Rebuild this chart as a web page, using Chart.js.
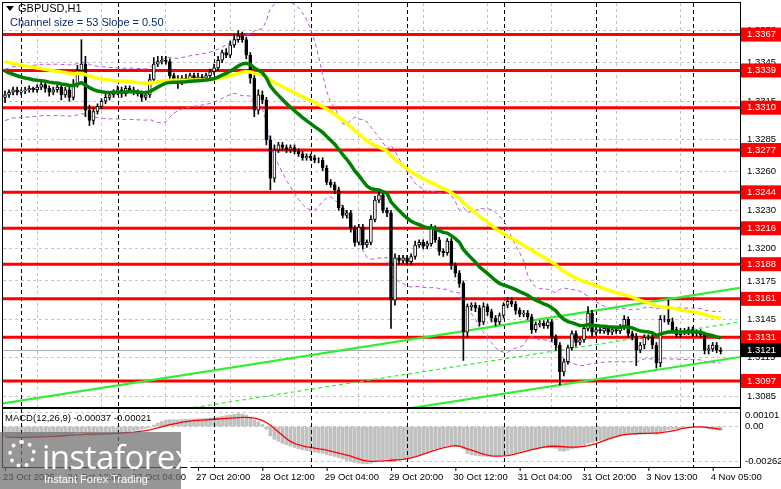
<!DOCTYPE html>
<html><head><meta charset="utf-8">
<script src="https://cdn.jsdelivr.net/npm/chart.js@4.4.0/dist/chart.umd.min.js"></script>
<style>
html,body{margin:0;padding:0;background:#fff;width:781px;height:489px;overflow:hidden;font-family:"Liberation Sans",Arial,sans-serif}
#c1{position:absolute;left:0;top:0}
#c2{position:absolute;left:0;top:407px}
#wm{position:absolute;left:0;top:432px;width:181px;height:57px;background:rgba(110,110,110,0.72);color:#fff}
#wm .big{position:absolute;left:42px;top:2px;font-size:33px;font-family:"Open Sans",sans-serif;letter-spacing:-0.5px}
#wm .small{position:absolute;left:44px;top:41px;font-size:11px}
#wm .logo{position:absolute;left:8px;top:8px;width:28px;height:28px;border-radius:50%;border:4px dotted #fff;box-sizing:border-box}
</style></head><body>
<canvas id="c1" width="781" height="408"></canvas>
<canvas id="c2" width="781" height="82"></canvas>
<div id="wm"><div class="logo"></div><div class="big">instaforex</div><div class="small">Instant Forex Trading</div></div>
<script>
const closes=[1.3320,1.3322,1.3324,1.3322,1.3323,1.3324,1.3325,1.3324,1.3326,1.3328,1.3325,1.3322,1.3324,1.3326,1.3320,1.3324,1.3318,1.3328,1.3339,1.3344,
1.3308,1.3300,1.3307,1.3311,1.3315,1.3318,1.3320,1.3322,1.3324,1.3321,1.3325,1.3324,1.3322,1.3321,1.3318,1.3320,1.3332,1.3344,1.3346,1.3347,
1.3346,1.3335,1.3332,1.3330,1.3333,1.3332,1.3335,1.3333,1.3334,1.3333,1.3335,1.3338,1.3341,1.3347,1.3353,1.3351,1.3359,1.3363,1.3366,1.3363,
1.3351,1.3333,1.3308,1.3320,1.3316,1.3285,1.3255,1.3277,1.3281,1.3279,1.3277,1.3279,1.3276,1.3274,1.3271,1.3272,1.3271,1.3269,1.3269,1.3263,
1.3252,1.3250,1.3246,1.3232,1.3226,1.3228,1.3216,1.3205,1.3217,1.3203,1.3205,1.3223,1.3238,1.3242,1.3230,1.3228,1.3160,1.3193,1.3191,1.3193,
1.3190,1.3194,1.3203,1.3205,1.3202,1.3204,1.3216,1.3207,1.3198,1.3197,1.3206,1.3187,1.3181,1.3173,1.3135,1.3155,1.3156,1.3154,1.3143,1.3155,
1.3151,1.3146,1.3143,1.3148,1.3156,1.3159,1.3157,1.3152,1.3149,1.3150,1.3147,1.3137,1.3141,1.3142,1.3140,1.3143,1.3131,1.3125,1.3104,1.3112,
1.3123,1.3134,1.3127,1.3129,1.3138,1.3150,1.3135,1.3137,1.3136,1.3138,1.3135,1.3137,1.3136,1.3139,1.3145,1.3134,1.3132,1.3121,1.3125,1.3131,
1.3131,1.3125,1.3111,1.3145,1.3145,1.3143,1.3137,1.3133,1.3136,1.3135,1.3137,1.3134,1.3135,1.3133,1.3121,1.3122,1.3125,1.3121,1.3120];
const firstOpen=1.3318;
// wick lengths in pips above / below the body
const upWick=[3,2,2,2,1,2,2,1,2,3,2,2,2,3,2,2,3,4,4,19,6,4,3,2,2,3,2,2,3,2,2,2,2,2,2,3,4,5,4,3,
3,2,2,3,2,3,2,2,3,2,2,2,3,3,2,3,3,4,4,3,2,2,2,4,3,2,3,4,2,2,2,2,2,2,2,2,2,2,2,2,
2,2,2,2,2,2,2,2,2,2,2,3,3,4,3,2,2,3,2,2,2,2,3,2,2,2,3,2,2,2,2,2,2,2,2,2,2,2,2,3,
2,2,2,2,2,3,3,2,2,2,2,2,2,2,2,2,2,2,2,2,2,2,2,2,3,5,2,2,2,2,2,2,2,2,3,2,2,2,2,2,
2,2,2,3,3,15,3,2,2,2,2,2,2,2,2,3,2,2,2];
const downWick=[4,2,2,2,2,2,2,2,2,2,3,3,2,2,4,2,3,2,2,3,5,4,3,2,2,2,2,2,2,3,2,2,2,2,3,2,2,2,2,2,
2,3,3,5,2,2,2,2,2,2,2,2,2,2,2,2,2,2,2,2,3,4,5,3,3,4,9,3,2,2,2,2,2,2,2,2,2,2,2,2,
2,2,3,2,2,2,3,3,2,3,2,2,2,2,2,3,22,4,3,2,2,2,2,2,2,2,2,2,3,3,2,3,3,3,22,4,3,3,3,2,
3,3,3,2,2,2,2,3,2,2,2,3,2,2,2,2,3,4,10,3,2,2,3,2,2,2,3,2,2,2,2,2,2,2,2,3,3,12,2,3,
2,3,4,3,2,2,2,2,2,2,2,2,2,2,3,3,2,2,2];
// MACD main (histogram) and signal, in units of 0.00001
const macdMain=[-70,-72,-74,-75,-76,-77,-78,-78,-78,-77,-76,-75,-74,
-73,-72,-70,-68,-55,-40,-45,-60,-66,-64,-60,-56,-52,-48,-45,-42,-40,-38,
-35,-30,-25,-18,-12,-5,
10,25,38,48,50,50,50,52,54,55,56,57,58,60,
62,65,70,75,80,85,90,95,92,85,
70,50,35,15,-20,-70,-95,-110,-125,-135,
-145,-155,-165,-172,-178,-184,-190,-195,-200,-208,-215,-222,-230,-240,-250,
-258,-266,-272,-275,-276,-272,-262,-250,-245,-242,
-262,-255,-250,-245,-240,-233,-222,-210,-200,-190,-175,-165,-158,-150,-140,
-140,-145,-150,-165,-200,-210,-215,-218,-220,-222,-222,-220,-218,-215,-210,
-205,-198,-190,-183,-176,-172,-168,-162,-158,-155,-158,-162,-180,-182,-175,
-165,-160,-150,-140,-125,-118,-110,-103,-96,-90,-84,-78,-72,-66,-62,
-60,-62,-60,-56,-52,-52,-58,-40,-30,-24,-20,-16,-12,-8,-5,
-3,-3,-4,-10,-18,-22,-25,-28];
const macdSignal=[-78,-79,-80,-80,-80,-80,-80,-79,-78,-77,-76,-75,-73,
-72,-70,-68,-66,-64,-62,-60,-58,-57,-57,-57,-56,-55,-54,-52,-50,-48,-46,
-44,-42,-38,-34,-30,-25,
-18,-10,-2,6,14,20,26,32,36,40,44,46,48,50,
52,54,56,58,60,62,64,66,68,68,
66,62,55,45,30,10,-15,-40,-65,-90,
-110,-125,-135,-143,-150,-155,-160,-165,-170,-175,-182,-190,-198,-205,-212,
-220,-230,-240,-250,-255,-258,-258,-256,-254,-252,
-250,-248,-246,-243,-238,-232,-225,-215,-205,-195,-185,-175,-165,-158,-150,
-145,-142,-145,-155,-165,-175,-185,-195,-205,-212,-218,-220,-220,-218,-215,
-210,-203,-196,-188,-180,-172,-165,-158,-152,-148,-146,-146,-148,-150,-152,
-152,-152,-150,-147,-142,-135,-126,-116,-105,-94,-84,-74,-66,-60,-56,
-54,-52,-50,-50,-50,-49,-48,-46,-42,-38,-32,-26,-18,-12,-8,
-5,-3,-2,-4,-8,-12,-16,-20];
const timeLabels=["23 Oct 2025","24 Oct 12:00","27 Oct 04:00","27 Oct 20:00","28 Oct 12:00","29 Oct 04:00","29 Oct 20:00","30 Oct 12:00","31 Oct 04:00","31 Oct 20:00","3 Nov 13:00","4 Nov 05:00"];
const labelEvery=16;
const daySeparators=[4,28,52,76,100,124,147,171];
const levels=[1.3367,1.3339,1.3310,1.3277,1.3244,1.3216,1.3188,1.3161,1.3131,1.3097];
const currentPrice=1.3121;
const priceTicks=[1.3085,1.3115,1.3145,1.3175,1.3200,1.3230,1.3260,1.3285,1.3315,1.3345,1.3370];
const channelUpper=[[-1.2,1.30791],[182.8,1.31695]];
const channelMid=[[-1.2,1.30526],[182.8,1.31430]];
const channelLower=[[-1.2,1.30261],[182.8,1.31157]];
const greenPeriod=24, yellowPeriod=60;
const greenSeed=1.3340, yellowSeed=1.3347;
const macdTicks=[0.00101,0,-0.00262];
const macdTickLabels=["0.00101","0.00","-0.00262"];

const opens=closes.map((c,i)=>i===0?firstOpen:closes[i-1]);
const highs=closes.map((c,i)=>Math.max(c,opens[i])+upWick[i]*0.0001);
const lows=closes.map((c,i)=>Math.min(c,opens[i])-downWick[i]*0.0001);
function ema(arr,p,seed){let e=seed;return arr.map(v=>(e=e+2/(p+1)*(v-e)));}
const green=ema(closes,greenPeriod,greenSeed), yellow=ema(closes,yellowPeriod,yellowSeed);
const bbU=[],bbL=[];
closes.forEach((c,i)=>{const w=closes.slice(Math.max(0,i-19),i+1);const m=w.reduce((a,b)=>a+b,0)/w.length;
 const sd=Math.sqrt(w.reduce((a,b)=>a+(b-m)*(b-m),0)/w.length);const s=Math.max(sd,0.0010);bbU.push(m+2*s);bbL.push(m-2*s);});

const XMIN=-0.5,XMAX=182.8;
const FONT='"Liberation Sans", Arial, sans-serif';
const xy=(arr,k)=>arr.map((v,i)=>({x:i,y:v*(k||1)}));

const overlay={id:'ov',
 beforeDatasetsDraw(ch){const {ctx,chartArea:a,scales:{x,y}}=ch;ctx.save();
  ctx.beginPath();ctx.rect(a.left,a.top,a.right-a.left,a.bottom-a.top);ctx.clip();
  ctx.strokeStyle='#000';ctx.lineWidth=1;ctx.setLineDash([4,3]);
  daySeparators.forEach(d=>{const px=Math.round(x.getPixelForValue(d))+0.5;ctx.beginPath();ctx.moveTo(px,a.top);ctx.lineTo(px,a.bottom);ctx.stroke();});
  ctx.setLineDash([]);
  ctx.strokeStyle='#b0b0b0';const cp=Math.round(y.getPixelForValue(currentPrice))+0.5;
  ctx.beginPath();ctx.moveTo(a.left,cp);ctx.lineTo(a.right,cp);ctx.stroke();
  ctx.strokeStyle='#ff0000';ctx.lineWidth=3;
  levels.forEach(l=>{const py=y.getPixelForValue(l);ctx.beginPath();ctx.moveTo(a.left,py);ctx.lineTo(a.right,py);ctx.stroke();});
  ctx.restore();},
 afterDraw(ch){const {ctx,chartArea:a,scales:{y}}=ch;ctx.save();
  ctx.strokeStyle='#000';ctx.lineWidth=1;ctx.strokeRect(a.left-0.5,a.top-0.5,a.right-a.left+1,a.bottom-a.top+1);
  ctx.font='9.5px '+FONT;ctx.textBaseline='middle';ctx.fillStyle='#000';
  priceTicks.forEach(v=>{const py=y.getPixelForValue(v);if(py>a.top+4&&py<a.bottom-2)ctx.fillText(v.toFixed(4),a.right+7,py);});
  levels.forEach(l=>{const py=y.getPixelForValue(l);ctx.fillStyle='#ff0000';ctx.fillRect(a.right+1,py-7,40,14);ctx.fillStyle='#fff';ctx.fillText(l.toFixed(4),a.right+7,py);});
  const cp=y.getPixelForValue(currentPrice);ctx.fillStyle='#000';ctx.fillRect(a.right+1,cp-7,40,14);ctx.fillStyle='#fff';ctx.fillText(currentPrice.toFixed(4),a.right+7,cp);
  ctx.fillStyle='#000';ctx.font='11px '+FONT;ctx.fillText('GBPUSD,H1',18,9);
  ctx.beginPath();ctx.moveTo(6,6);ctx.lineTo(14,6);ctx.lineTo(10,11);ctx.closePath();ctx.fill();
  ctx.fillStyle='#0a2a6a';ctx.fillText('Channel size = 53 Slope = 0.50',10,23);
  ctx.restore();}};

const gridX={color:'#c4c4c4',lineWidth:1,drawTicks:false};
new Chart(document.getElementById('c1'),{
 type:'bar',
 data:{datasets:[
  {type:'line',data:xy(bbU),borderColor:'#bb55dd',borderWidth:1,borderDash:[4,3],pointRadius:0,order:6},
  {type:'line',data:xy(bbL),borderColor:'#bb55dd',borderWidth:1,borderDash:[4,3],pointRadius:0,order:6},
  {type:'line',data:channelMid.map(p=>({x:p[0],y:p[1]})),borderColor:'#33ee33',borderWidth:1.2,borderDash:[4,3],pointRadius:0,order:5},
  {type:'line',data:channelUpper.map(p=>({x:p[0],y:p[1]})),borderColor:'#33ee33',borderWidth:2.2,pointRadius:0,order:5},
  {type:'line',data:channelLower.map(p=>({x:p[0],y:p[1]})),borderColor:'#33ee33',borderWidth:2.2,pointRadius:0,order:5},
  {data:closes.map((c,i)=>({x:i,y:[lows[i],highs[i]]})),backgroundColor:'#000',barThickness:1,grouped:false,order:3},
  {data:closes.map((c,i)=>({x:i,y:[opens[i],c]})),backgroundColor:closes.map((c,i)=>c>=opens[i]?'#fff':'#000'),borderColor:'#000',borderWidth:1,borderSkipped:false,barThickness:3,grouped:false,order:2},
  {type:'line',data:xy(yellow),borderColor:'#ffff00',borderWidth:3.5,pointRadius:0,order:1},
  {type:'line',data:xy(green),borderColor:'#008000',borderWidth:3.5,pointRadius:0,order:0}
 ]},
 options:{responsive:false,animation:false,events:[],
  layout:{padding:{left:3,top:3,right:0,bottom:1}},
  plugins:{legend:{display:false},tooltip:{enabled:false}},
  scales:{
   x:{type:'linear',min:XMIN,max:XMAX,offset:false,afterFit:s=>{s.height=0;},
     afterBuildTicks:s=>{s.ticks=timeLabels.map((t,i)=>({value:i*labelEvery}));},
     ticks:{display:false},border:{display:false,dash:[3,3]},grid:gridX},
   y:{position:'right',min:1.30767,max:1.33916,afterFit:s=>{s.width=41;},
     afterBuildTicks:s=>{s.ticks=priceTicks.map(v=>({value:v}));},
     ticks:{display:false},border:{display:false,dash:[3,3]},
     grid:{color:'#c4c4c4',drawTicks:false}}
  }},
 plugins:[overlay]
});

const macdOverlay={id:'mo',
 afterDraw(ch){const {ctx,chartArea:a,scales:{x,y}}=ch;ctx.save();
  ctx.strokeStyle='#000';ctx.lineWidth=1;ctx.strokeRect(a.left-0.5,a.top-0.5,a.right-a.left+1,a.bottom-a.top+1);
  ctx.setLineDash([4,3]);
  daySeparators.forEach(d=>{const px=Math.round(x.getPixelForValue(d))+0.5;ctx.beginPath();ctx.moveTo(px,a.top);ctx.lineTo(px,a.bottom);ctx.stroke();});
  ctx.setLineDash([]);
  ctx.fillStyle='#000';ctx.font='9.5px '+FONT;ctx.textBaseline='middle';
  ctx.fillText('MACD(12,26,9) -0.00037 -0.00021',5,a.top+9);
  macdTicks.forEach((v,i)=>{let py=y.getPixelForValue(v);py=Math.max(py,a.top+6);ctx.fillText(macdTickLabels[i],a.right+5,py);});
  timeLabels.forEach((t,i)=>{const px=x.getPixelForValue(i*labelEvery);
   ctx.beginPath();ctx.moveTo(px+0.5,a.bottom);ctx.lineTo(px+0.5,a.bottom+4);ctx.stroke();
   ctx.fillText(t,px-2,a.bottom+10);});
  ctx.restore();}};

new Chart(document.getElementById('c2'),{
 type:'bar',
 data:{datasets:[
  {type:'line',data:xy(macdSignal,0.00001),borderColor:'#ff0000',borderWidth:1.3,pointRadius:0,order:0},
  {data:xy(macdMain,0.00001),backgroundColor:'#c0c0c0',barThickness:3,order:1}
 ]},
 options:{responsive:false,animation:false,events:[],
  layout:{padding:{left:3,top:2,right:0,bottom:22}},
  plugins:{legend:{display:false},tooltip:{enabled:false}},
  scales:{
   x:{type:'linear',min:XMIN,max:XMAX,offset:false,afterFit:s=>{s.height=0;},
     ticks:{display:false},border:{display:false},grid:{display:false}},
   y:{position:'right',min:-0.0030,max:0.0013,afterFit:s=>{s.width=41;},
     afterBuildTicks:s=>{s.ticks=macdTicks.map(v=>({value:v}));},
     ticks:{display:false},border:{display:false,dash:[3,3]},grid:{color:'#c4c4c4',drawTicks:false}}
  }},
 plugins:[macdOverlay]
});
</script></body></html>
